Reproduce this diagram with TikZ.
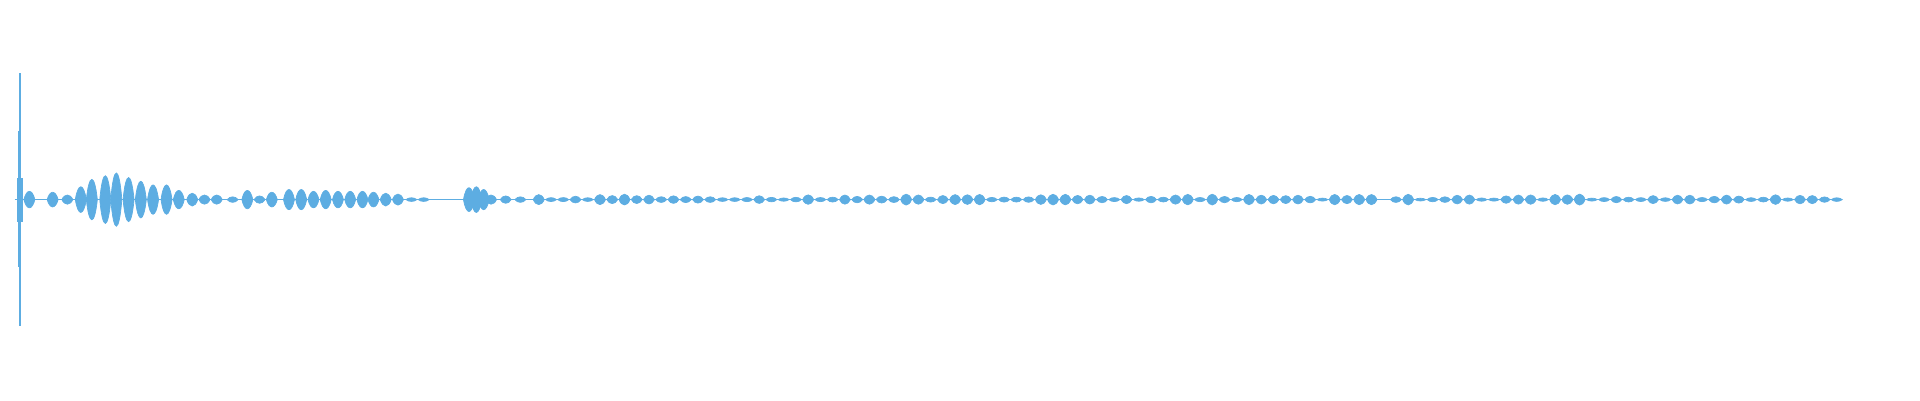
\documentclass[tikz,border=0pt]{standalone}
\definecolor{wave}{HTML}{5DADE2}
\tikzset{
  lobe/.style={fill=wave,draw=wave,line width=0.2pt},
  axisline/.style={draw=wave,line width=0.4pt}
}
\newcommand{\wavelobe}[3]{% x, half width, amplitude
  \fill[lobe] ({#1-#2},163) .. controls ({#1-#2/2},{163-#3}) and ({#1+#2/2},{163-#3}) .. ({#1+#2},163)
    .. controls ({#1+#2/2},{163+#3}) and ({#1-#2/2},{163+#3}) .. cycle;}
\begin{document}
\begin{tikzpicture}[x=0.012245cm,y=-0.012245cm]
  \useasboundingbox (0,0) rectangle (1568,326.7);
  % baseline
  \draw[axisline] (12,163) -- (1500,163);
  % onset spike
  \draw[wave,line width=0.6pt] (16,60) -- (16,266);
  \fill[wave] (14.5,107) rectangle (17.5,218);
  \fill[wave] (13.5,145) rectangle (19,181);
  % first burst
  \foreach \x/\a in {24/9,43/8,55/5,66/14,75/22,86/26,95/29,105/24,115/20,125/16,136/16,146/10,157/7,167/5,177/5,190/3,
                     202/10,212/4,222/8,236/11,246/11,256/9,266/10,276/9,286/9,296/9,305/8,315/7,325/6,336/2,346/2,
                     383/13,389/14,395/11,401/5,413/4,425/3} {
    \wavelobe{\x}{4.5}{\a}
  }
  % long tail
  \pgfmathsetseed{7}
  \foreach \x in {440,450,...,1500} {
    \pgfmathsetmacro{\amp}{1.5+4.5*rnd}
    \ifnum\x=1130\relax\else\wavelobe{\x}{4.5}{\amp}\fi
  }
\end{tikzpicture}
\end{document}
